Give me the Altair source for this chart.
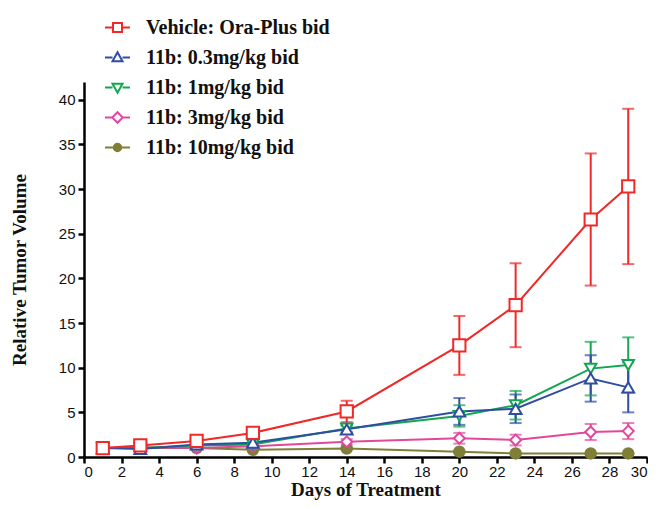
import altair as alt
import pandas as pd

series_names = [
    "Vehicle: Ora-Plus bid",
    "11b: 0.3mg/kg bid",
    "11b: 1mg/kg bid",
    "11b: 3mg/kg bid",
    "11b: 10mg/kg bid",
]
colors = ["#f02828", "#2f4ea2", "#12a650", "#e0489e", "#7f7f38"]
fills = ["#ffffff", "#ffffff", "#ffffff", "#ffffff", "#7f7f38"]
plot_shapes = ["square", "triangle-up", "triangle-down", "diamond", "circle"]
marker_sizes = [150, 110, 110, 110, 85]

days = [1, 3, 6, 9, 14, 20, 23, 27, 29]
x_ticks = list(range(0, 31, 2))
y_ticks = list(range(0, 41, 5))

means = {
    "Vehicle: Ora-Plus bid": [1.0, 1.3, 1.8, 2.7, 5.1, 12.5, 17.0, 26.6, 30.3],
    "11b: 0.3mg/kg bid": [1.0, 0.9, 1.4, 1.6, 3.1, 5.1, 5.4, 8.8, 7.8],
    "11b: 1mg/kg bid": [1.0, 1.0, 1.3, 1.4, 3.2, 4.6, 5.8, 9.9, 10.3],
    "11b: 3mg/kg bid": [1.0, 1.1, 1.0, 1.2, 1.7, 2.1, 1.9, 2.8, 2.9],
    "11b: 10mg/kg bid": [1.0, 1.0, 1.0, 0.8, 0.95, 0.6, 0.4, 0.4, 0.4],
}
errors = {
    "Vehicle: Ora-Plus bid": [0.1, 0.2, 0.3, 0.4, 1.2, 3.3, 4.7, 7.4, 8.7],
    "11b: 0.3mg/kg bid": [0.1, 0.1, 0.2, 0.2, 0.4, 1.5, 1.6, 2.6, 2.8],
    "11b: 1mg/kg bid": [0.1, 0.1, 0.2, 0.2, 0.4, 1.2, 1.6, 3.0, 3.1],
    "11b: 3mg/kg bid": [0.1, 0.1, 0.1, 0.2, 0.3, 0.6, 0.6, 0.9, 0.9],
    "11b: 10mg/kg bid": [0.05, 0.05, 0.05, 0.05, 0.1, 0.1, 0.05, 0.05, 0.05],
}

# legend symbols: short line with the marker in the middle (custom paths)
legend_paths = [
    "M-1,0L-0.36,0M0.36,0L1,0M-0.36,-0.36L0.36,-0.36L0.36,0.36L-0.36,0.36Z",
    "M-1,0L-0.4,0M0.4,0L1,0M0,-0.42L0.4,0.3L-0.4,0.3Z",
    "M-1,0L-0.4,0M0.4,0L1,0M0,0.42L0.4,-0.3L-0.4,-0.3Z",
    "M-1,0L-0.42,0M0.42,0L1,0M0,-0.42L0.42,0L0,0.42L-0.42,0Z",
    "M-1,0L1,0M-0.3,0A0.3,0.3,0,1,1,0.3,0A0.3,0.3,0,1,1,-0.3,0Z",
]

rows = []
for s in reversed(series_names):
    for d, m, e in zip(days, means[s], errors[s]):
        rows.append({"day": d, "series": s, "mean": m, "lo": max(m - e, 0), "hi": m + e})
df = pd.DataFrame(rows)

x_scale = alt.Scale(domain=[0, 30], nice=False, zero=False, padding=0)
y_scale = alt.Scale(domain=[0, 42], nice=False, zero=False, padding=0)
x_axis = alt.Axis(values=x_ticks, title="Days of Treatment", labelOverlap=False)
y_axis = alt.Axis(values=y_ticks, title="Relative Tumor Volume", labelOverlap=False)


def X():
    return alt.X("day:Q", scale=x_scale, axis=x_axis)


def Y(field):
    return alt.Y(f"{field}:Q", scale=y_scale, axis=y_axis)


stroke_scale = alt.Scale(domain=series_names, range=colors)
fill_scale = alt.Scale(domain=series_names, range=fills)
shape_scale = alt.Scale(domain=series_names, range=plot_shapes)

base = alt.Chart(df)

lines = base.mark_line(strokeWidth=2).encode(
    x=X(), y=Y("mean"),
    stroke=alt.Stroke("series:N", scale=stroke_scale, legend=None),
    detail="series:N",
)

err = base.mark_rule(strokeWidth=2).encode(
    x=X(), y=Y("lo"), y2="hi:Q",
    stroke=alt.Stroke("series:N", scale=stroke_scale, legend=None),
)
cap_lo = base.mark_tick(orient="horizontal", size=12, thickness=2).encode(
    x=X(), y=Y("lo"),
    color=alt.Color("series:N", scale=stroke_scale, legend=None),
)
cap_hi = base.mark_tick(orient="horizontal", size=12, thickness=2).encode(
    x=X(), y=Y("hi"),
    color=alt.Color("series:N", scale=stroke_scale, legend=None),
)

points = base.mark_point(filled=False, strokeWidth=2, opacity=1).encode(
    x=X(), y=Y("mean"),
    shape=alt.Shape("series:N", scale=shape_scale, legend=None),
    stroke=alt.Stroke("series:N", scale=stroke_scale, legend=None),
    fill=alt.Fill("series:N", scale=fill_scale, legend=None),
    size=alt.Size("series:N", scale=alt.Scale(domain=series_names, range=marker_sizes), legend=None),
)

main = alt.layer(lines, err, cap_lo, cap_hi, points)

legend_df = pd.DataFrame({"series": series_names, "day": [1] * 5, "mean": [1.0] * 5})
legend_kw = dict(
    title=None, orient="none", legendX=20, legendY=-68, padding=0,
    symbolSize=625, symbolStrokeWidth=2, symbolOpacity=1,
    labelFont="Liberation Serif", labelFontSize=20, labelFontWeight="bold",
    labelColor="#111111", labelOffset=15, rowPadding=6, labelLimit=400,
)
legend_layer = alt.Chart(legend_df).mark_point(opacity=0, strokeWidth=2).encode(
    x=X(), y=Y("mean"),
    shape=alt.Shape("series:N", scale=alt.Scale(domain=series_names, range=legend_paths),
                    legend=alt.Legend(**legend_kw), sort=series_names),
    stroke=alt.Stroke("series:N", scale=alt.Scale(domain=series_names, range=colors),
                      legend=alt.Legend(**legend_kw), sort=series_names),
    fill=alt.Fill("series:N", scale=alt.Scale(domain=series_names, range=fills),
                  legend=alt.Legend(**legend_kw), sort=series_names),
)

chart = alt.layer(main, legend_layer).resolve_scale(
    shape="independent", stroke="independent", fill="independent"
).properties(
    width=563, height=375,
    autosize=alt.AutoSizeParams(type="none"),
    padding={"left": 76, "top": 74, "right": 1, "bottom": 44},
).configure_scale(
    continuousPadding=0
).configure_view(
    stroke=None
).configure_axis(
    grid=False, labelOverlap=False,
    domainColor="black", domainWidth=2.5,
    tickColor="black", tickWidth=2.5, tickSize=6,
    labelFont="Liberation Sans", labelFontSize=15, labelColor="#111111",
    titleFont="Liberation Serif", titleFontSize=19, titleFontWeight="bold",
    titleColor="#111111",
).configure_axisY(
    labelPadding=3, titlePadding=29,
).configure_axisX(
    labelPadding=1, titlePadding=1,
)

chart.save("out.html", embed_options={"renderer": "svg", "actions": False})
